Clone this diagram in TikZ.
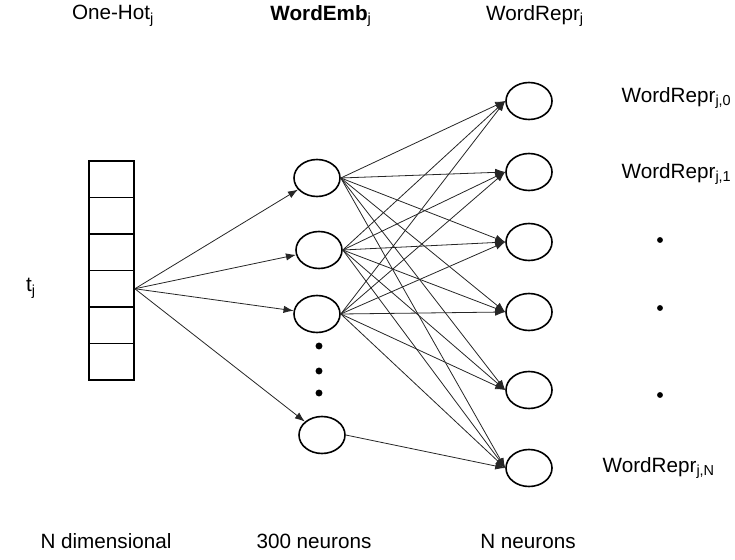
\documentclass[tikz,border=0pt]{standalone}
\usepackage{fontspec}
\setmainfont{Liberation Sans}
\usetikzlibrary{arrows.meta,shapes.geometric}

\begin{document}
\begin{tikzpicture}[>={Latex[length=7.5pt,width=5.5pt]},x=0.75pt,y=-0.75pt,
  every node/.style={font=\fontsize{15.5}{18}\selectfont},
  cell/.style={draw,line width=1.3pt,minimum width=33.75pt,minimum height=27.4pt,inner sep=0pt},
  neuron/.style={draw,ellipse,line width=1.2pt,minimum width=34.5pt,minimum height=27.75pt,inner sep=0pt},
  link/.style={->,line width=0.6pt,color=black!85}]

\useasboundingbox (0,0) rectangle (735,560);

% one-hot vector
\foreach \k in {0,...,5}{
	\node[cell] (cell\k) at (111.5,{179.25+36.5*\k}) {};
}

% embedding layer
\node[neuron] (m1) at (317,178) {};
\node[neuron] (m2) at (319,250) {};
\node[neuron] (m3) at (317,314) {};
\node[neuron] (m4) at (322,435) {};
\foreach \y in {346,371,393}{
	\fill (319,\y) circle (2.6pt);
}

% representation layer
\foreach \o/\y in {1/101,2/172,3/242,4/312,5/390,6/468}{
	\node[neuron] (r\o) at (529,\y) {};
}

% connections
\foreach \i in {1,...,4}{
	\draw[link] (cell3.east) -- (m\i);
}
\foreach \i in {1,2,3}{
	\foreach \o in {1,...,6}{
		\draw[link] (m\i.east) -- (r\o.west);
	}
}
\draw[link] (m4.east) -- (r6.west);

% labels
\node (hotlbl) at (113,16) {One-Hot\textsubscript{j}};
\node (emblbl) at (321,16) {\textbf{WordEmb}\textsubscript{j}};
\node (reprlbl) at (535,16) {WordRepr\textsubscript{j}};
\node (tlbl) at (31,288) {t\textsubscript{j}};

\node[anchor=west] (out0) at (617,98) {WordRepr\textsubscript{j,0}};
\node[anchor=west] (out1) at (617,174) {WordRepr\textsubscript{j,1}};
\node[anchor=west] (outN) at (598,468) {WordRepr\textsubscript{j,N}};
\foreach \y in {240,308,395}{
	\fill (660,\y) circle (2.2pt);
}

\node (dimlbl) at (106,541) {N dimensional};
\node (n300lbl) at (314,541) {300 neurons};
\node (nlbl) at (528,541) {N neurons};

\end{tikzpicture}
\end{document}
